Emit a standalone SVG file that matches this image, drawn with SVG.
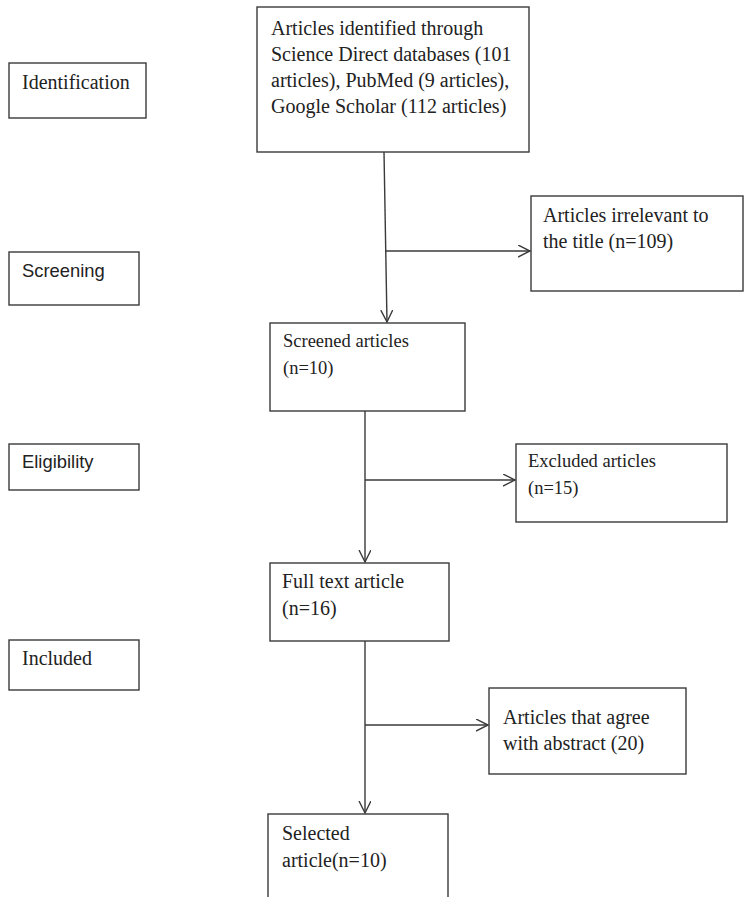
<svg xmlns="http://www.w3.org/2000/svg" width="744" height="897" viewBox="0 0 744 897">
<style>
.box{fill:#fff;stroke:#3a3a3a;stroke-width:1.4}
.t{font-family:"Liberation Serif","Times New Roman",serif;font-size:20px;fill:#222}
.ts{font-family:"Liberation Serif","Times New Roman",serif;font-size:18.5px;fill:#222}
.s{font-family:"Liberation Sans",Arial,sans-serif;font-size:18.4px;fill:#222}
.c{fill:none;stroke:#3a3a3a;stroke-width:1.4}
</style>
<defs>
<marker id="ah" markerUnits="userSpaceOnUse" markerWidth="14" markerHeight="14" refX="12" refY="6" orient="auto">
<path d="M0,0 L12,6 L0,12" fill="none" stroke="#3a3a3a" stroke-width="1.4"/>
</marker>
</defs>
<rect width="744" height="897" fill="#fff"/>
<g id="stage-identification"><rect class="box" x="9" y="63" width="137" height="55"/><text class="t" x="22" y="89">Identification</text></g>
<g id="stage-screening"><rect class="box" x="9" y="252" width="130" height="53"/><text class="s" x="22" y="277">Screening</text></g>
<g id="stage-eligibility"><rect class="box" x="9" y="444" width="130" height="46"/><text class="s" x="22" y="468">Eligibility</text></g>
<g id="stage-included"><rect class="box" x="9" y="640" width="130" height="50"/><text class="t" x="22" y="665">Included</text></g>
<g id="identified"><rect class="box" x="257" y="7" width="272" height="145"/>
<text class="t" x="271" y="35">Articles identified through</text>
<text class="t" x="271" y="61">Science Direct databases (101</text>
<text class="t" x="271" y="87">articles), PubMed (9 articles),</text>
<text class="t" x="271" y="113">Google Scholar (112 articles)</text></g>
<g id="irrelevant"><rect class="box" x="531" y="196" width="212" height="95"/>
<text class="t" x="543" y="222">Articles irrelevant to</text>
<text class="t" x="543" y="248">the title (n=109)</text></g>
<g id="screened"><rect class="box" x="270" y="323" width="195" height="88"/>
<text class="ts" x="283" y="347">Screened articles</text>
<text class="ts" x="283" y="374">(n=10)</text></g>
<g id="excluded"><rect class="box" x="516" y="444" width="211" height="78"/>
<text class="ts" x="528" y="467">Excluded articles</text>
<text class="ts" x="528" y="494">(n=15)</text></g>
<g id="fulltext"><rect class="box" x="270" y="563" width="179" height="78"/>
<text class="t" x="282" y="588">Full text article</text>
<text class="t" x="282" y="615">(n=16)</text></g>
<g id="agree"><rect class="box" x="489" y="688" width="197" height="86"/>
<text class="t" x="503" y="724">Articles that agree</text>
<text class="t" x="503" y="750">with abstract (20)</text></g>
<g id="selected"><rect class="box" x="268" y="814" width="180" height="100"/>
<text class="t" x="282" y="840">Selected</text>
<text class="t" x="282" y="867">article(n=10)</text></g>
<g id="connectors">
<line class="c" x1="384" y1="152" x2="387" y2="322" marker-end="url(#ah)"/>
<line class="c" x1="385.5" y1="251" x2="530" y2="251" marker-end="url(#ah)"/>
<line class="c" x1="365" y1="411" x2="365" y2="562" marker-end="url(#ah)"/>
<line class="c" x1="365" y1="480" x2="515" y2="480" marker-end="url(#ah)"/>
<line class="c" x1="365" y1="641" x2="365" y2="813" marker-end="url(#ah)"/>
<line class="c" x1="365" y1="725" x2="488" y2="725" marker-end="url(#ah)"/>
</g>
</svg>
